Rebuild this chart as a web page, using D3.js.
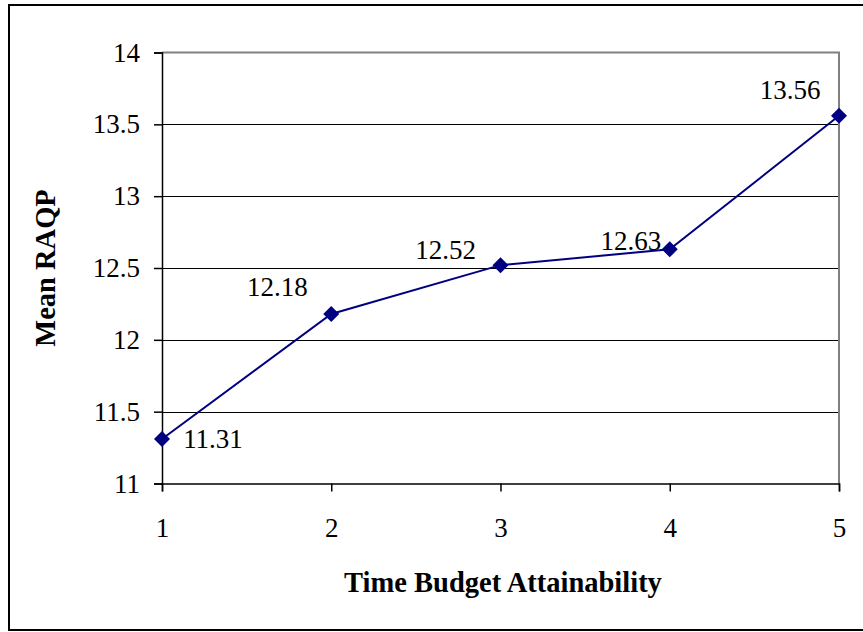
<!DOCTYPE html>
<html><head><meta charset="utf-8">
<script src="https://cdn.jsdelivr.net/npm/d3@7"></script>
<style>html,body{margin:0;padding:0;background:#fff;} svg{display:block;}</style>
</head><body>
<svg id="chart" width="863" height="632"></svg>
<script>
const categories = [1, 2, 3, 4, 5];
const meanRAQP = [11.31, 12.18, 12.52, 12.63, 13.56];
const yTicks = [11, 11.5, 12, 12.5, 13, 13.5, 14];
const valueLabels = ["11.31", "12.18", "12.52", "12.63", "13.56"];
const labelOffsets = [[51, 3], [-54, -24], [-55, -12], [-39, -6], [-49, -23]];
const xTitle = "Time Budget Attainability";
const yTitle = "Mean RAQP";

(function () {
const svg = d3.select("#chart");
const font = "'Liberation Serif','Times New Roman',serif";
const pL = 162, pR = 839, pT = 52.5, pB = 483.5;

svg.append("rect").attr("x", 9).attr("y", 5).attr("width", 870).attr("height", 625)
  .attr("fill", "#fff").attr("stroke", "#000").attr("stroke-width", 2);

const x = d3.scaleLinear().domain([1, 5]).range([pL, pR]);
const y = d3.scaleLinear().domain([11, 14]).range([pB, pT]);

// gridlines
svg.append("g").selectAll("line").data(yTicks.filter(t => t > 11 && t < 14)).join("line")
  .attr("x1", pL).attr("x2", pR)
  .attr("y1", d => Math.round(y(d)) + 0.5).attr("y2", d => Math.round(y(d)) + 0.5)
  .attr("stroke", "#000").attr("stroke-width", 1);

// plot border top/right gray
svg.append("path").attr("d", `M${pL},${pT}H${pR}V${pB}`)
  .attr("fill", "none").attr("stroke", "#808080").attr("stroke-width", 2);

// y axis
const yAxis = d3.axisLeft(y).tickValues(yTicks).tickSize(8).tickPadding(14)
  .tickFormat(d => String(d));
const gy = svg.append("g").attr("transform", `translate(${pL},0)`).call(yAxis);
gy.select(".domain").attr("stroke", "#000").attr("stroke-width", 1.5);
gy.selectAll(".tick line").attr("stroke", "#000").attr("stroke-width", 1.5);
gy.selectAll("text").attr("font-family", font).attr("font-size", 27).attr("fill", "#000");

// x axis
const xAxis = d3.axisBottom(x).tickValues(categories).tickSize(8).tickPadding(26)
  .tickFormat(d3.format("d"));
const gx = svg.append("g").attr("transform", `translate(0,${pB})`).call(xAxis);
gx.select(".domain").attr("stroke", "#000").attr("stroke-width", 1.5);
gx.selectAll(".tick line").attr("stroke", "#000").attr("stroke-width", 1.5);
gx.selectAll("text").attr("font-family", font).attr("font-size", 27).attr("fill", "#000");

// line
const pts = categories.map((c, i) => [c, meanRAQP[i]]);
svg.append("path").datum(pts)
  .attr("d", d3.line().x(d => x(d[0])).y(d => y(d[1])))
  .attr("fill", "none").attr("stroke", "#000080").attr("stroke-width", 2);

// markers (square diamond)
const diamond = {
  draw(ctx, size) {
    const r = Math.sqrt(size / 2);
    ctx.moveTo(0, -r); ctx.lineTo(r, 0); ctx.lineTo(0, r); ctx.lineTo(-r, 0); ctx.closePath();
  }
};
svg.append("g").selectAll("path").data(pts).join("path")
  .attr("d", d3.symbol().type(diamond).size(128))
  .attr("transform", d => `translate(${x(d[0])},${y(d[1])})`)
  .attr("fill", "#000080");

// value labels
svg.append("g").selectAll("text").data(pts).join("text")
  .attr("x", (d, i) => x(d[0]) + labelOffsets[i][0])
  .attr("y", (d, i) => y(d[1]) + labelOffsets[i][1])
  .attr("text-anchor", "middle").attr("dominant-baseline", "middle")
  .attr("font-family", font).attr("font-size", 27).attr("fill", "#000")
  .text((d, i) => valueLabels[i]);

// titles
svg.append("text").attr("x", 503).attr("y", 592)
  .attr("text-anchor", "middle").attr("font-family", font).attr("font-weight", "bold")
  .attr("font-size", 28.5).attr("fill", "#000").text(xTitle);
svg.append("text").attr("transform", `translate(55,${(pT + pB) / 2}) rotate(-90)`)
  .attr("text-anchor", "middle").attr("font-family", font).attr("font-weight", "bold")
  .attr("font-size", 28.5).attr("fill", "#000").text(yTitle);
})();
</script>
</body></html>
